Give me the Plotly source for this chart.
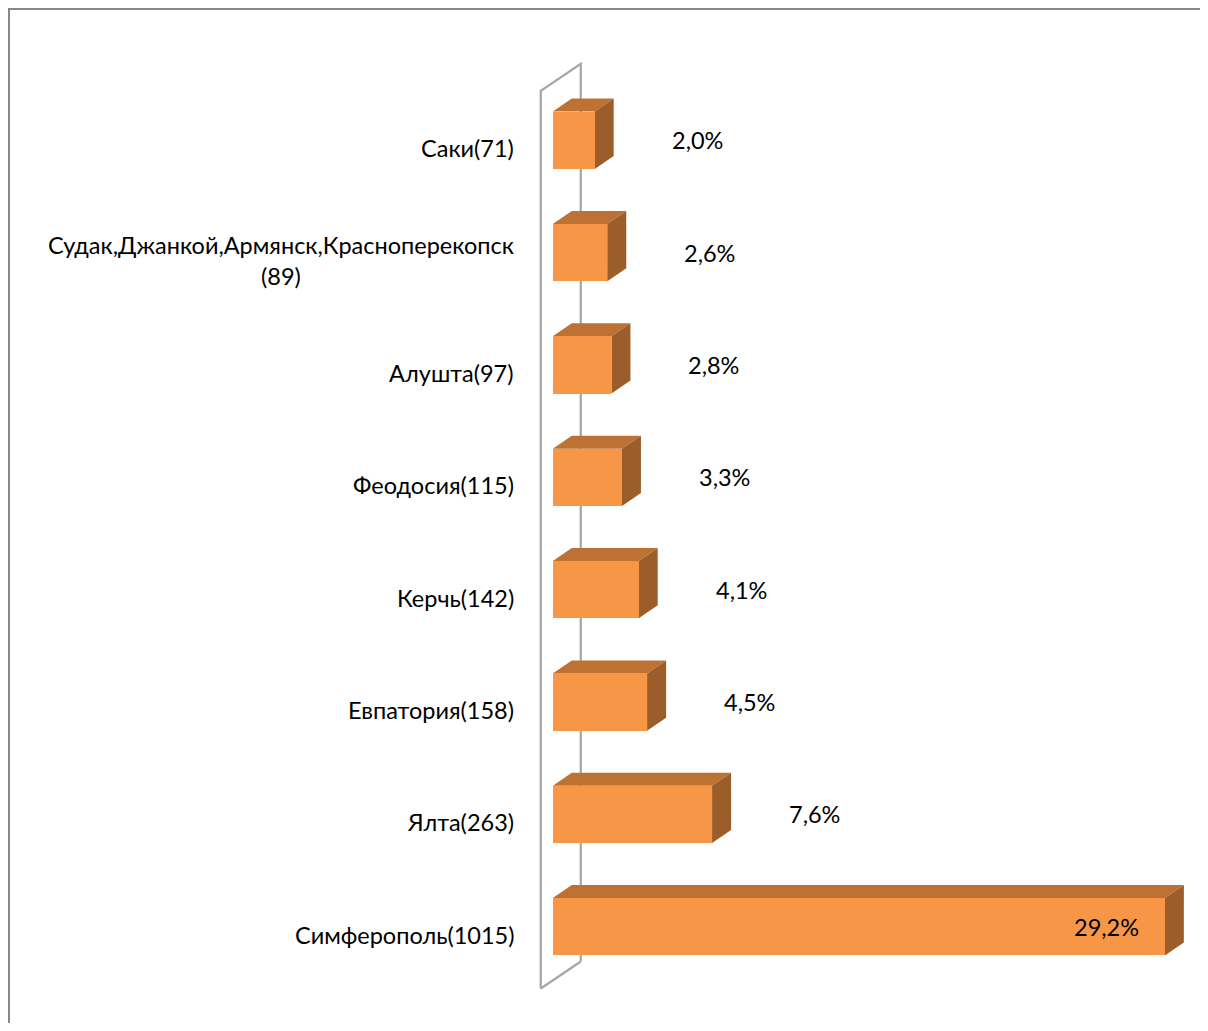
import plotly.graph_objects as go

# Data (bottom to top)
categories = [
    "Симферополь(1015)",
    "Ялта(263)",
    "Евпатория(158)",
    "Керчь(142)",
    "Феодосия(115)",
    "Алушта(97)",
    "Судак,Джанкой,Армянск,Красноперекопск<br>(89)",
    "Саки(71)",
]
percents = [29.2, 7.6, 4.5, 4.1, 3.3, 2.8, 2.6, 2.0]

# Page has an 8px body margin on every side, so the figure is made smaller and shifted
OFF = 8
W, H = 1208 - 2 * OFF, 1031 - 2 * OFF
X_RANGE = [-0.8, 30.4]
Y_RANGE = [-0.75, 7.75]
L, T = 536 - OFF, 55 - OFF + 1
R = W - L - 654
B = H - T - 955
pw = W - L - R
ph = H - T - B
px_per_x = pw / (X_RANGE[1] - X_RANGE[0])
px_per_y = ph / (Y_RANGE[1] - Y_RANGE[0])

BAR_W = 0.51
DX = 19 / px_per_x      # depth offset in x units
DY = 13 / px_per_y      # depth offset in y units

FRONT = "#F79646"
TOP = "#BD7234"
SIDE = "#9B5E2B"
WALL = "#A6A6A6"

ys = list(range(len(categories)))

fig = go.Figure()
fig.add_trace(go.Bar(
    x=percents, y=ys, orientation="h", width=BAR_W,
    marker=dict(color=FRONT, line=dict(width=0)),
    hoverinfo="skip",
))

shapes = []
n = len(categories)
wx_front = -12 / px_per_x
wx_back = 28 / px_per_x
w_top = (n - 1) + 0.44
w_bot = -0.55
w_dy = 27 / px_per_y
shapes.append(dict(
    type="path", xref="x", yref="y", layer="below",
    path=f"M {wx_front},{w_bot} L {wx_front},{w_top} L {wx_back},{w_top + w_dy} L {wx_back},{w_bot + w_dy}",
    line=dict(color=WALL, width=2.2), fillcolor="rgba(0,0,0,0)",
))
shapes.append(dict(
    type="path", xref="x", yref="y", layer="below",
    path=f"M {wx_front},{w_bot} L {wx_back},{w_bot + w_dy}",
    line=dict(color=WALL, width=2.2),
))

for y, v in zip(ys, percents):
    top = y + BAR_W / 2
    bot = y - BAR_W / 2
    shapes.append(dict(
        type="path", xref="x", yref="y", layer="below",
        path=f"M 0,{top} L {v},{top} L {v + DX},{top + DY} L {DX},{top + DY} Z",
        fillcolor=TOP, line=dict(width=0),
    ))
    shapes.append(dict(
        type="path", xref="x", yref="y", layer="below",
        path=f"M {v},{bot} L {v},{top} L {v + DX},{top + DY} L {v + DX},{bot + DY} Z",
        fillcolor=SIDE, line=dict(width=0),
    ))

# outer chart border (right and bottom edges lie beyond the figure)
shapes.append(dict(
    type="rect", xref="paper", yref="paper",
    x0=(1 - L) / pw, x1=(W + 20 - L) / pw,
    y0=-(B + 20) / ph, y1=(H - 1 - B) / ph,
    line=dict(color="#878787", width=2), fillcolor="rgba(0,0,0,0)", layer="below",
))

annotations = []
FONT = dict(family="Lato, Carlito, Calibri, sans-serif", size=23.5, color="#000000")
for y, c in zip(ys, categories):
    annotations.append(dict(
        x=0, y=y, xref="x", yref="y", text=c, showarrow=False,
        xanchor="right", yanchor="middle", align="center",
        xshift=-37, yshift=-8, font=FONT,
    ))
vmax = max(percents)
for y, v in zip(ys, percents):
    label = f"{v:.1f}%".replace(".", ",")
    if v > 0.8 * vmax:
        annotations.append(dict(x=v, y=y, xref="x", yref="y", text=label, showarrow=False,
                                xanchor="right", yanchor="middle", xshift=-24, font=FONT))
    else:
        annotations.append(dict(x=v, y=y, xref="x", yref="y", text=label, showarrow=False,
                                xanchor="left", yanchor="middle", xshift=75, font=FONT))

fig.update_layout(
    width=W, height=H,
    margin=dict(l=L, r=R, t=T, b=B),
    paper_bgcolor="white", plot_bgcolor="white",
    showlegend=False,
    xaxis=dict(range=X_RANGE, visible=False, fixedrange=True),
    yaxis=dict(range=Y_RANGE, visible=False, fixedrange=True),
    shapes=shapes, annotations=annotations,
    bargap=0,
)

fig.write_html("out.html")
